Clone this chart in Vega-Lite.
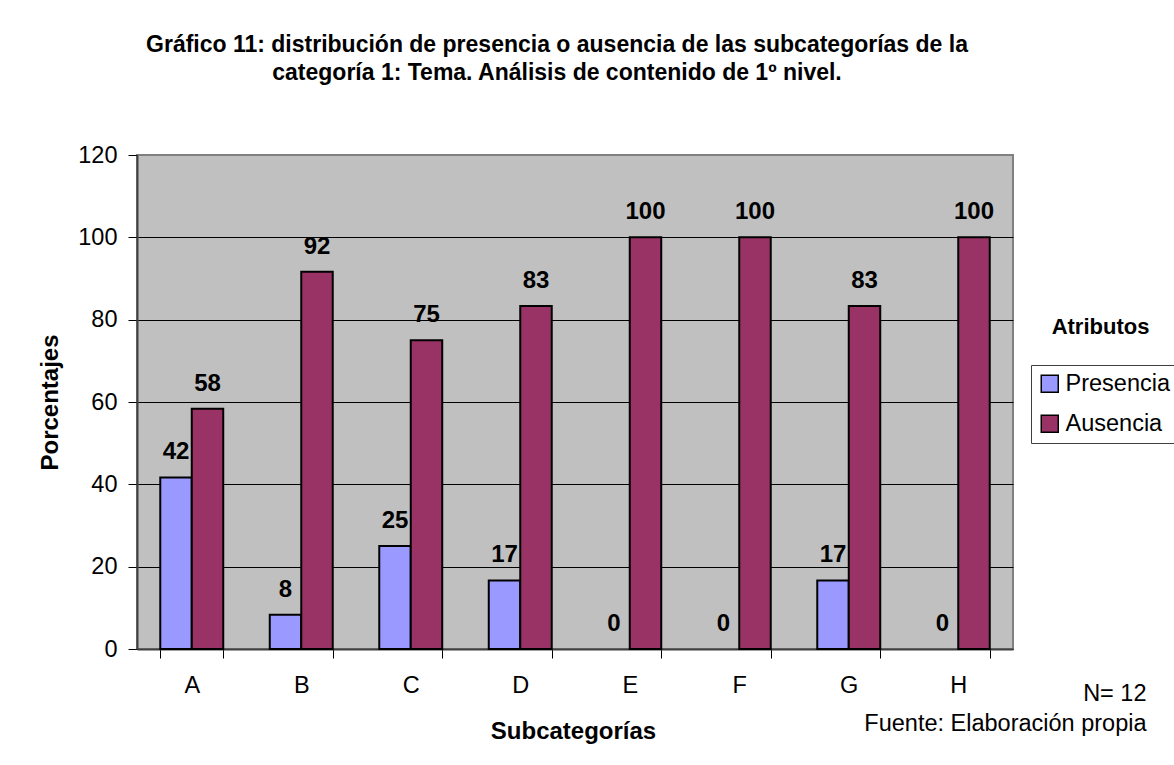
{
  "$schema": "https://vega.github.io/schema/vega-lite/v6.json",
  "width": 876,
  "height": 494,
  "autosize": {"type": "none"},
  "padding": {"left": 137, "top": 155, "right": 161, "bottom": 116},
  "background": "white",
  "title": {
    "text": ["Gráfico 11: distribución de presencia o ausencia de las subcategorías de la", "categoría 1: Tema. Análisis de contenido de 1º nivel."],
    "anchor": "middle",
    "frame": "group",
    "dx": -18,
    "offset": 58,
    "fontSize": 23,
    "fontWeight": "bold",
    "font": "Liberation Sans",
    "color": "black",
    "lineHeight": 28
  },
  "config": {
    "font": "Liberation Sans",
    "view": {"fill": "#C0C0C0", "stroke": "#808080", "strokeWidth": 2}
  },
  "data": {
    "values": [
      {"sub": "A", "attr": "Presencia", "value": 41.67},
      {"sub": "A", "attr": "Ausencia", "value": 58.33},
      {"sub": "B", "attr": "Presencia", "value": 8.33},
      {"sub": "B", "attr": "Ausencia", "value": 91.67},
      {"sub": "C", "attr": "Presencia", "value": 25},
      {"sub": "C", "attr": "Ausencia", "value": 75},
      {"sub": "D", "attr": "Presencia", "value": 16.67},
      {"sub": "D", "attr": "Ausencia", "value": 83.33},
      {"sub": "E", "attr": "Presencia", "value": 0},
      {"sub": "E", "attr": "Ausencia", "value": 100},
      {"sub": "F", "attr": "Presencia", "value": 0},
      {"sub": "F", "attr": "Ausencia", "value": 100},
      {"sub": "G", "attr": "Presencia", "value": 16.67},
      {"sub": "G", "attr": "Ausencia", "value": 83.33},
      {"sub": "H", "attr": "Presencia", "value": 0},
      {"sub": "H", "attr": "Ausencia", "value": 100}
    ]
  },
  "encoding": {
    "xOffset": {"field": "attr", "type": "nominal", "sort": ["Presencia", "Ausencia"]}
  },
  "layer": [
    {
      "mark": {"type": "bar", "stroke": "black", "strokeWidth": 2},
      "encoding": {
        "x": {
          "field": "sub", "type": "nominal",
          "scale": {"paddingInner": 0.425, "paddingOuter": 0.2125},
          "axis": {
            "title": "Subcategorías",
            "titleFontSize": 24,
            "titleFontWeight": "bold",
            "titleColor": "black",
            "titleX": 436,
            "titleY": 89,
            "titleBaseline": "alphabetic",
            "labelAngle": 0,
            "labelFontSize": 23.5,
            "labelColor": "black",
            "labelPadding": 15,
            "tickBand": "extent",
            "tickSize": 9,
            "tickColor": "black",
            "domainColor": "#404040",
            "domainWidth": 2
          }
        },
        "y": {
          "field": "value", "type": "quantitative",
          "scale": {"domain": [0, 120], "nice": false},
          "axis": {
            "title": "Porcentajes",
            "values": [0, 20, 40, 60, 80, 100, 120],
            "grid": true,
            "gridColor": {"condition": {"test": "datum.value === 120", "value": "#808080"}, "value": "black"},
            "gridWidth": 1,
            "tickSize": 9,
            "tickColor": "black",
            "labelPadding": 11,
            "labelFontSize": 23.5,
            "labelColor": "black",
            "titleFontSize": 24,
            "titleFontWeight": "bold",
            "titleColor": "black",
            "titleX": -80,
            "titleY": 247,
            "titleBaseline": "alphabetic",
            "domainColor": "#404040",
            "domainWidth": 2
          }
        },
        "color": {
          "field": "attr", "type": "nominal",
          "scale": {"domain": ["Presencia", "Ausencia"], "range": ["#9999FF", "#993366"]},
          "legend": {
            "title": null,
            "orient": "none",
            "legendX": 894,
            "legendY": 210,
            "strokeColor": "#404040",
            "fillColor": "white",
            "padding": 7,
            "symbolType": "square",
            "symbolSize": 289,
            "symbolStrokeColor": "black",
            "symbolStrokeWidth": 1.5,
            "labelFontSize": 23.5,
            "labelColor": "black",
            "labelOffset": 4,
            "rowPadding": 15
          }
        },
        "strokeOpacity": {
          "condition": {"test": "datum.value === 0", "value": 0},
          "value": 1
        }
      }
    },
    {
      "mark": {"type": "text", "fontSize": 24, "fontWeight": "bold", "baseline": "alphabetic", "dy": -18, "color": "black"},
      "encoding": {
        "x": {
          "field": "sub", "type": "nominal",
          "axis": {
            "orient": "bottom",
            "domain": false,
            "ticks": false,
            "labels": false,
            "grid": false,
            "title": ["N= 12", "Fuente: Elaboración propia"],
            "titleAlign": "right",
            "titleX": 1009,
            "titleY": 51,
            "titleBaseline": "alphabetic",
            "titleFontSize": 23.5,
            "titleFontWeight": "normal",
            "titleColor": "black",
            "titleLineHeight": 30
          }
        },
        "y": {
          "field": "value", "type": "quantitative",
          "axis": {
            "orient": "right",
            "domain": false,
            "ticks": false,
            "labels": false,
            "grid": false,
            "title": "Atributos",
            "titleAngle": 0,
            "titleX": 87,
            "titleY": 178,
            "titleAlign": "center",
            "titleBaseline": "alphabetic",
            "titleFontSize": 22,
            "titleFontWeight": "bold",
            "titleColor": "black"
          }
        },
        "text": {"field": "value", "type": "quantitative", "format": ".0f"}
      }
    }
  ],
  "resolve": {"axis": {"x": "independent", "y": "independent"}}
}
